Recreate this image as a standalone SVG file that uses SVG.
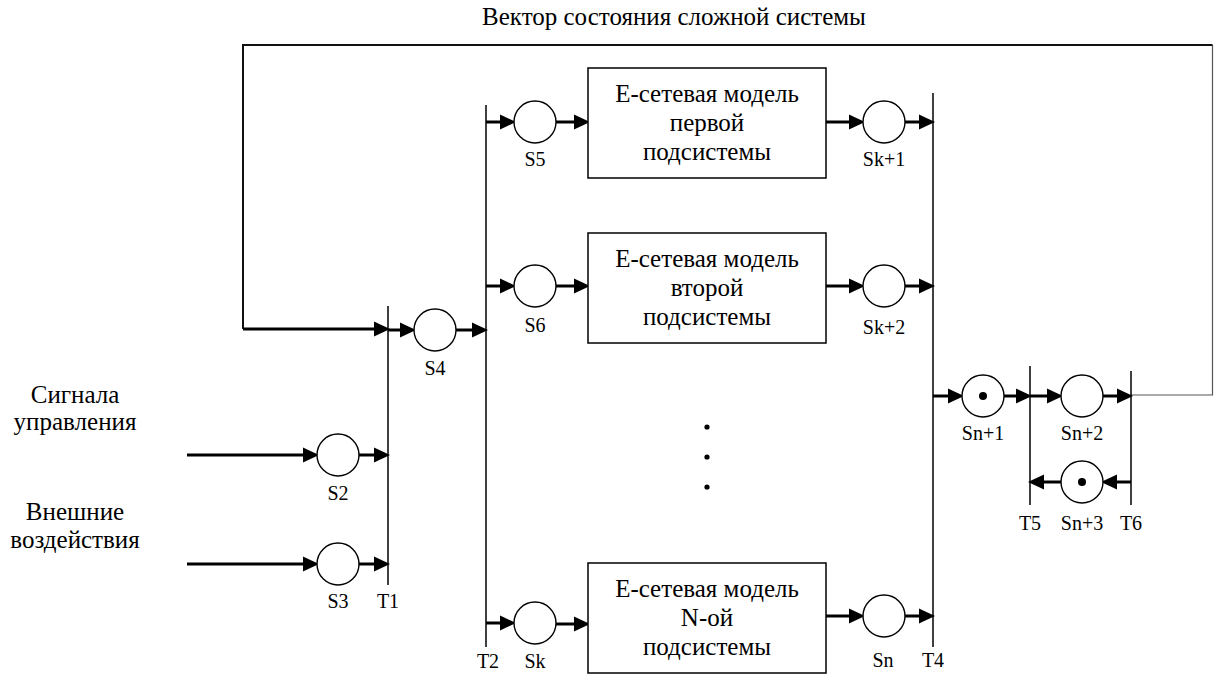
<svg xmlns="http://www.w3.org/2000/svg" width="1214" height="674" viewBox="0 0 1214 674" font-family="'Liberation Serif', 'DejaVu Serif', serif">
<defs>
<marker id="ah" markerUnits="userSpaceOnUse" markerWidth="16" markerHeight="16" viewBox="0 -7 14 14" refX="0" refY="0" orient="auto">
<path d="M0,-6.5 L14,0 L0,6.5 z" fill="#000"/>
</marker>
</defs>
<style>
.pl{fill:#fff;stroke:#000;stroke-width:1.4}
.tr{stroke:#000;stroke-width:1.5;fill:none}
.bx{fill:#fff;stroke:#000;stroke-width:1.5}
.ar{stroke:#000;stroke-width:3;fill:none;marker-end:url(#ah)}
.fb{stroke:#111;stroke-width:2;fill:none}
.fbt{stroke:#555;stroke-width:1.2;fill:none}
.tk{fill:#000}
.lb{font-family:'Liberation Serif', 'DejaVu Serif', serif;font-size:20px;text-anchor:middle;fill:#000}
.bt{font-family:'Liberation Serif', 'DejaVu Serif', serif;font-size:25px;text-anchor:middle;fill:#000}
.sd{font-family:'Liberation Serif', 'DejaVu Serif', serif;font-size:25px;text-anchor:middle;fill:#000}
</style>
<rect width="1214" height="674" fill="#fff"/>
<text id="title" x="674" y="25" class="sd">Вектор состояния сложной системы</text>
<g id="in-labels">
<text x="75" y="403" class="sd">Сигнала</text>
<text x="75" y="430" class="sd">управления</text>
<text x="75" y="520" class="sd">Внешние</text>
<text x="75" y="548" class="sd">воздействия</text>
</g>
<g id="connectors">
<path class="fbt" d="M1131,395 H1212.5 V45"/>
<path class="fb" d="M1212.5,45 H243 V329"/>
<path class="ar" d="M243,329 H374"/>
<path class="ar" d="M187,455 H303"/>
<path class="ar" d="M187,564 H303"/>
<path class="ar" d="M359,455 H374"/>
<path class="ar" d="M359,564 H374"/>
<path class="ar" d="M388,330 H400"/>
<path class="ar" d="M456,330 H472"/>
<path class="ar" d="M486,122 H500"/>
<path class="ar" d="M556,122 H574"/>
<path class="ar" d="M826,122 H849"/>
<path class="ar" d="M905,122 H919"/>
<path class="ar" d="M486,286 H500"/>
<path class="ar" d="M556,286 H574"/>
<path class="ar" d="M826,286 H849"/>
<path class="ar" d="M905,286 H919"/>
<path class="ar" d="M486,623 H500"/>
<path class="ar" d="M556,624 H574"/>
<path class="ar" d="M826,616 H849"/>
<path class="ar" d="M905,616 H919"/>
<path class="ar" d="M933,396 H948"/>
<path class="ar" d="M1004,396 H1016"/>
<path class="ar" d="M1030,396 H1047"/>
<path class="ar" d="M1103,396 H1117"/>
<path class="ar" d="M1131,482 H1117"/>
<path class="ar" d="M1061,482 H1044"/>
</g>
<g id="T1"><line class="tr" x1="388" y1="306" x2="388" y2="585"/><text x="388" y="608" class="lb">T1</text></g>
<g id="T2"><line class="tr" x1="486" y1="105" x2="486" y2="647"/><text x="488" y="668" class="lb">T2</text></g>
<g id="T4"><line class="tr" x1="933" y1="93" x2="933" y2="647"/><text x="933" y="667" class="lb">T4</text></g>
<g id="T5"><line class="tr" x1="1030" y1="366" x2="1030" y2="505"/><text x="1030" y="530" class="lb">T5</text></g>
<g id="T6"><line class="tr" x1="1131" y1="371" x2="1131" y2="505"/><text x="1131" y="530" class="lb">T6</text></g>
<g id="S2"><circle class="pl" cx="338" cy="455" r="21"/><text x="338" y="500" class="lb">S2</text></g>
<g id="S3"><circle class="pl" cx="338" cy="564" r="21"/><text x="338" y="608" class="lb">S3</text></g>
<g id="S4"><circle class="pl" cx="435" cy="330" r="21"/><text x="435" y="375" class="lb">S4</text></g>
<g id="S5"><circle class="pl" cx="535" cy="122" r="21"/><text x="535" y="166" class="lb">S5</text></g>
<g id="S6"><circle class="pl" cx="535" cy="286" r="21"/><text x="535" y="332" class="lb">S6</text></g>
<g id="Sk"><circle class="pl" cx="535" cy="623" r="21"/><text x="535" y="668" class="lb">Sk</text></g>
<g id="Sk1"><circle class="pl" cx="884" cy="122" r="21"/><text x="884" y="166" class="lb">Sk+1</text></g>
<g id="Sk2"><circle class="pl" cx="884" cy="286" r="21"/><text x="884" y="334" class="lb">Sk+2</text></g>
<g id="Sn"><circle class="pl" cx="884" cy="616" r="21"/><text x="883" y="667" class="lb">Sn</text></g>
<g id="Sn1"><circle class="pl" cx="983" cy="396" r="21"/><circle class="tk" cx="983" cy="396" r="4"/><text x="983" y="440" class="lb">Sn+1</text></g>
<g id="Sn2"><circle class="pl" cx="1082" cy="396" r="21"/><text x="1082" y="440" class="lb">Sn+2</text></g>
<g id="Sn3"><circle class="pl" cx="1082" cy="482" r="21"/><circle class="tk" cx="1082" cy="482" r="4"/><text x="1082" y="530" class="lb">Sn+3</text></g>
<g id="box1"><rect class="bx" x="588" y="68" width="238" height="110"/><text x="707" y="102" class="bt">Е-сетевая модель</text><text x="707" y="131" class="bt">первой</text><text x="707" y="160" class="bt">подсистемы</text></g>
<g id="box2"><rect class="bx" x="588" y="233" width="238" height="110"/><text x="707" y="267" class="bt">Е-сетевая модель</text><text x="707" y="296" class="bt">второй</text><text x="707" y="325" class="bt">подсистемы</text></g>
<g id="box3"><rect class="bx" x="588" y="563" width="238" height="110"/><text x="707" y="597" class="bt">Е-сетевая модель</text><text x="707" y="626" class="bt">N-ой</text><text x="707" y="655" class="bt">подсистемы</text></g>
<g id="dots"><circle class="tk" cx="707" cy="427" r="2.6"/><circle class="tk" cx="707" cy="457" r="2.6"/><circle class="tk" cx="707" cy="487" r="2.6"/></g>
</svg>
